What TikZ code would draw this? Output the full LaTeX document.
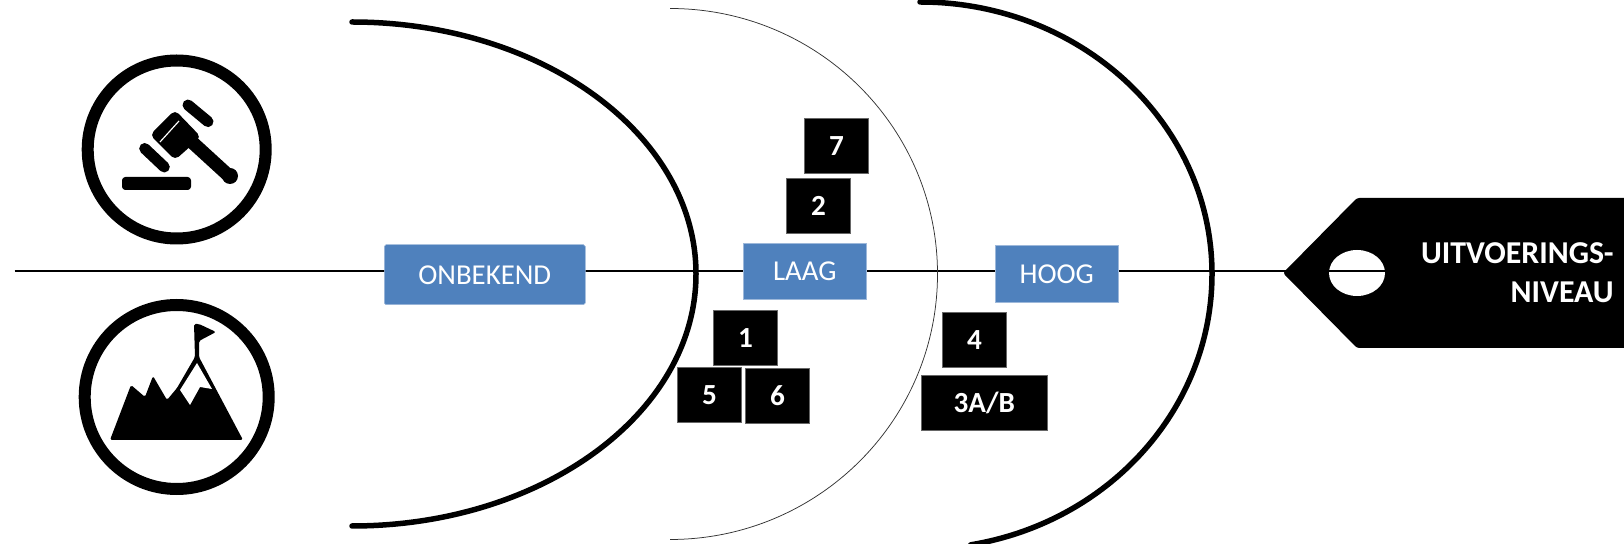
\documentclass[tikz,border=0pt]{standalone}
\usepackage{fontspec}
\setmainfont{Carlito}
\definecolor{tagblue}{HTML}{4F81BD}
\definecolor{tagedge}{HTML}{9DB8DA}
\tikzset{
  x=0.6pt,y=-0.6pt,
  thickarc/.style={line width=3.3pt,line cap=round},
  thinarc/.style={line width=0.45pt,draw=black!80},
  axisline/.style={line width=0.9pt},
  level/.style={fill=tagblue,draw=tagedge,line width=0.3pt,text=white,font=\fontsize{17.3pt}{20pt}\selectfont,inner sep=0pt,anchor=north west},
  numbox/.style={fill=black,draw=black!60,line width=0.3pt,text=white,font=\fontsize{17.5pt}{20pt}\selectfont\bfseries,inner sep=0pt,anchor=north west,minimum height=33.2pt},
  smallbox/.style={numbox,minimum width=38.6pt},
  ring/.style={line width=7.2pt,draw=black,fill=white},
  ink/.style={fill=black,draw=none},
  tagtext/.style={anchor=base east,text=white,inner sep=0pt,font=\fontsize{19.1pt}{22pt}\selectfont\bfseries},
  gavelbar/.style={line width=6.6pt,line cap=round},
}
\begin{document}
\begin{tikzpicture}
\useasboundingbox (0,0) rectangle (1624,544);
\fill[white] (0,0) rectangle (1624,544);
\begin{scope}
\clip (0,0) rectangle (1624,544);
\coordinate (axisstart) at (14.5,271);
\coordinate (axisend) at (1385,271);
% tag
\fill[black,rounded corners=1.5pt] (1283,273) -- (1357,198) -- (1640,198) -- (1640,348) -- (1357,348) -- cycle;
\fill[white] (1357,273) ellipse [x radius=16.8pt,y radius=13.8pt];
\draw[axisline] (axisstart) -- (axisend);
% arcs
\draw[thickarc] (352,22) arc [start angle=90,end angle=-90,x radius=206.4pt,y radius=151.2pt];
\draw[thinarc] (670,8.5) arc [start angle=90,end angle=-90,x radius=160.5pt,y radius=159.3pt];
\draw[thickarc] (920,2) arc [start angle=90,end angle=0,x radius=175.2pt,y radius=163.2pt]
   arc [start angle=0,end angle=-80,x radius=175.2pt,y radius=165pt];
\end{scope}
% level boxes
\node[level,minimum width=120.6pt,minimum height=36pt,rounded corners=1pt] (onbekend) at (384,244.5) {ONBEKEND};
\node[level,minimum width=73.8pt,minimum height=33.6pt] (laag) at (743,243) {LAAG};
\node[level,minimum width=73.8pt,minimum height=34.2pt] (hoog) at (995,245) {HOOG};
% number boxes
\node[smallbox] (b7) at (804,118) {7};
\node[smallbox] (b2) at (786,178) {2};
\node[smallbox] (b1) at (713,310) {1};
\node[smallbox] (b5) at (677,367) {5};
\node[smallbox] (b6) at (745,368) {6};
\node[smallbox] (b4) at (942,312) {4};
\node[numbox,minimum width=75.6pt] (b3) at (921,375) {3A/B};
% tag text
\node[tagtext] (t1) at (1614,264) {UITVOERINGS-};
\node[tagtext] (t2) at (1614,303) {NIVEAU};
% gavel icon
\draw[ring] (176.7,149.5) circle [radius=53.4pt];
\fill[ink,rounded corners=2pt] (122,177) rectangle (191,190);
\fill[ink,rounded corners=3pt] (150,135) -- (175,110) -- (201,137) -- (175,160) -- cycle;
\draw[white,line width=0.7pt] (160,142) -- (179,121);
\draw[gavelbar] (188,105) -- (208,121.6);
\draw[gavelbar] (144.7,148.5) -- (164.3,167);
\draw[line width=8pt,line cap=round] (193,143) -- (228,175);
\fill[ink] (230,176) circle [radius=4.8pt];
% mountain icon
\draw[ring] (176.7,397) circle [radius=55.2pt];
\fill[ink,rounded corners=1pt] (110,440) -- (131,385) -- (145,397) -- (153,376) -- (167,400) -- (177,388) -- (195,357) -- (194,324) -- (199,324) -- (216,332) -- (199,341) -- (199,357) -- (243,440) -- cycle;
\fill[white] (197,363) -- (180,390) -- (190,405) -- (200,387) -- (212,389) -- cycle;
\end{tikzpicture}
\end{document}
